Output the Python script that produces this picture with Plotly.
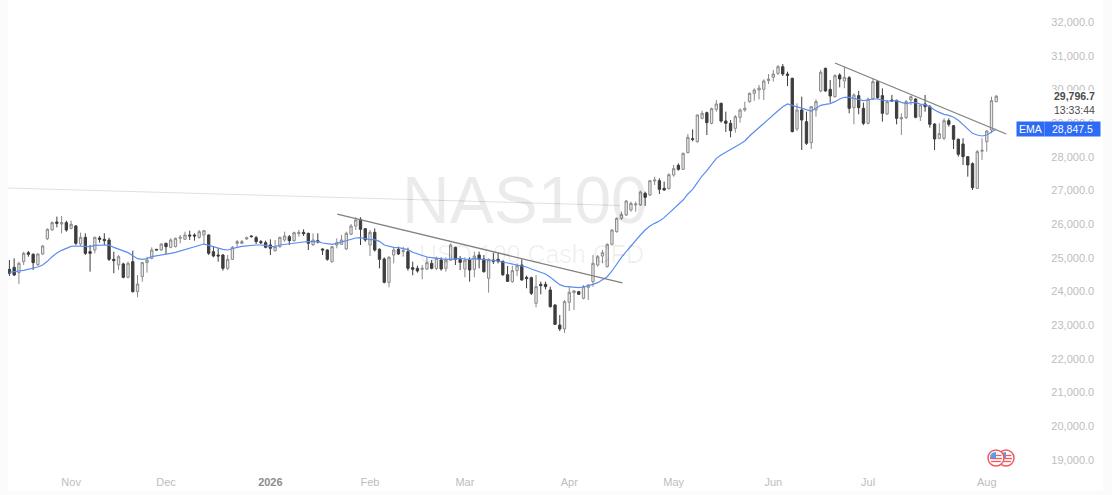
import math
import plotly.graph_objects as go

# daily bars, oldest first
opens = [
    24660, 24719, 24561, 24887, 25154, 25105, 24798, 25115, 25570, 25827,
    26064, 26005, 26045, 25876, 25946, 25411, 25609, 25184, 25233, 25590,
    25550, 25530, 24956, 24788, 24818, 24422, 24887, 23997, 24442, 24857,
    24986, 25253, 25233, 25431, 25312, 25332, 25580, 25550, 25678, 25678,
    25609, 25678, 25678, 25184, 25085, 25085, 24689, 24956, 25431, 25431,
    25560, 25649, 25599, 25481, 25451, 25382, 25213, 25332, 25530, 25629,
    25510, 25718, 25757, 25728, 25391, 25510, 25263, 25233, 24887, 25381,
    25401, 25263, 25698, 25945, 26143, 25866, 25381, 25757, 25253, 24966,
    24273, 25085, 25253, 25184, 25184, 24709, 24689, 24659, 24669, 24837,
    24689, 24936, 24689, 24936, 25312, 24956, 24669, 24936, 24659, 25085,
    24966, 24392, 24936, 24956, 24897, 24501, 24293, 24620, 24788, 24422,
    24412, 23651, 24214, 24214, 24046, 23601, 23007, 22889, 23680, 23967,
    23997, 23799, 24125, 24293, 24788, 25055, 24738, 25401, 25777, 26173,
    26272, 26420, 26569, 26569, 26915, 26865, 27281, 27291, 27063, 27053,
    27459, 27746, 27627, 28122, 28537, 28448, 29141, 29309, 28992, 29408,
    29586, 29062, 28992, 28844, 29170, 29388, 29635, 29883, 29982, 30001,
    30259, 30358, 30476, 30674, 30456, 30328, 28825, 29389, 29042, 28419,
    29389, 29953, 30625, 30002, 29784, 30427, 30249, 30348, 29458, 29814,
    29438, 28993, 29715, 30230, 29814, 29270, 29685, 29676, 29122, 29161,
    29685, 29715, 29191, 29567, 29488, 28973, 28548, 28548, 29072, 28924,
    28518, 28380, 28004, 27796, 27064, 28162, 28449, 28795, 29636,
]
highs = [
    24936, 24986, 24887, 25184, 25204, 25134, 25134, 25382, 25876, 26084,
    26223, 26242, 26104, 26104, 25975, 25748, 25728, 25382, 25629, 25649,
    25728, 25599, 25184, 25085, 24857, 24887, 25213, 24491, 24887, 25035,
    25312, 25253, 25431, 25451, 25580, 25599, 25678, 25777, 25807, 25728,
    25827, 25827, 25698, 25352, 25283, 25115, 25085, 25352, 25530, 25530,
    25629, 25668, 25649, 25530, 25510, 25550, 25530, 25625, 25777, 25678,
    25777, 25827, 25846, 25747, 25728, 25728, 25283, 25253, 25352, 25579,
    25678, 25777, 26005, 26203, 26203, 25886, 25827, 25876, 25283, 25015,
    25055, 25302, 25332, 25332, 25302, 24887, 24768, 24788, 25035, 24936,
    25035, 25015, 25015, 25431, 25332, 25055, 25015, 25015, 25184, 25184,
    25085, 24986, 25154, 25154, 24916, 24758, 24768, 24837, 24956, 24472,
    24442, 24491, 24294, 24294, 24145, 23621, 23304, 23749, 24145, 24046,
    24017, 24195, 24214, 25085, 25085, 25233, 25431, 25846, 26203, 26371,
    26717, 26668, 26668, 26994, 26964, 27311, 27409, 27360, 27261, 27508,
    27756, 27805, 28122, 28676, 28814, 29259, 29368, 29339, 29457, 29685,
    29606, 29339, 29091, 29240, 29438, 29635, 29903, 30031, 30130, 30298,
    30456, 30575, 30724, 30753, 30526, 30348, 29586, 29784, 29339, 29488,
    29705, 30576, 30645, 30279, 30447, 30477, 30675, 30398, 29883, 29953,
    29606, 29755, 30309, 30269, 30032, 29685, 29834, 29695, 29290, 29685,
    29814, 29735, 29557, 29834, 29537, 28993, 28993, 29141, 29141, 28943,
    28548, 28548, 28023, 27835, 28201, 28548, 28795, 29784, 29834,
]
lows = [
    24462, 24462, 24224, 24788, 25035, 24640, 24758, 25085, 25530, 25807,
    25906, 25728, 25777, 25847, 25382, 25352, 25085, 24590, 25134, 25451,
    25382, 24907, 24541, 24640, 24392, 24392, 23967, 23828, 24293, 24561,
    24956, 25233, 25213, 25115, 25283, 25312, 25431, 25530, 25530, 25510,
    25570, 25382, 25085, 25016, 24887, 24620, 24640, 24936, 25332, 25411,
    25530, 25609, 25411, 25411, 25283, 25085, 25184, 25300, 25480, 25381,
    25480, 25629, 25649, 25233, 25352, 25431, 25085, 24916, 24857, 25283,
    25381, 25233, 25678, 25827, 25381, 25480, 25055, 25184, 24689, 24244,
    24125, 24837, 25085, 25035, 24620, 24481, 24560, 24362, 24639, 24659,
    24639, 24620, 24590, 24916, 24788, 24639, 24422, 24293, 24422, 24689,
    24560, 23967, 24818, 24837, 24461, 24283, 24263, 24461, 24323, 24096,
    23898, 23532, 23918, 24066, 23522, 23007, 22829, 22770, 23423, 23453,
    23898, 23769, 23749, 24145, 24738, 24837, 24718, 25371, 25747, 26123,
    26242, 26371, 26371, 26539, 26539, 26836, 27162, 26895, 26994, 27033,
    27409, 27587, 27607, 28102, 28458, 28419, 29111, 28646, 28963, 29339,
    29012, 28735, 28577, 28715, 29012, 29339, 29606, 29665, 29705, 29685,
    30160, 30229, 30427, 30397, 30100, 28726, 28765, 28201, 28350, 28231,
    29191, 29913, 29933, 29606, 29755, 30061, 30032, 29290, 28963, 29260,
    28943, 28963, 29685, 29715, 29042, 29240, 29636, 28963, 28647, 29122,
    29537, 29141, 29062, 29339, 28864, 28201, 28518, 28498, 28894, 28231,
    28004, 27756, 27410, 27014, 27044, 27905, 28152, 28696, 29616,
]
closes = [
    24541, 24491, 24838, 25134, 25105, 24857, 25115, 25352, 25847, 26045,
    26025, 26045, 25827, 25995, 25431, 25609, 25134, 25134, 25609, 25550,
    25510, 24956, 24917, 25035, 24422, 24838, 23997, 24224, 24857, 24936,
    25233, 25233, 25411, 25332, 25530, 25580, 25609, 25678, 25649, 25649,
    25777, 25807, 25134, 25055, 25055, 24689, 24956, 25312, 25481, 25481,
    25599, 25629, 25481, 25451, 25312, 25283, 25332, 25609, 25649, 25510,
    25747, 25757, 25718, 25431, 25530, 25470, 25233, 24956, 25332, 25451,
    25530, 25728, 25945, 26123, 25846, 25530, 25757, 25233, 24956, 24273,
    25015, 25233, 25114, 25213, 24689, 24659, 24610, 24689, 24857, 24689,
    24986, 24669, 24936, 25381, 24956, 24867, 24936, 24639, 25055, 24956,
    24590, 24956, 24897, 24907, 24501, 24303, 24620, 24768, 24343, 24382,
    23947, 24145, 24175, 24145, 23552, 23027, 22889, 23700, 23977, 24017,
    23918, 24145, 24195, 24837, 25035, 25154, 25401, 25827, 26173, 26291,
    26687, 26618, 26598, 26954, 26796, 27291, 27311, 27033, 27014, 27469,
    27647, 27627, 28102, 28577, 28517, 29240, 29289, 29012, 29428, 29566,
    29062, 28992, 28775, 29190, 29388, 29438, 29883, 29982, 30041, 30249,
    30308, 30456, 30674, 30456, 30417, 28746, 29389, 29092, 28399, 29488,
    29636, 30507, 29953, 29804, 30408, 30309, 30358, 29438, 29834, 29458,
    28993, 29715, 30230, 29755, 29290, 29636, 29656, 29141, 29161, 29636,
    29784, 29171, 29537, 29488, 28963, 28528, 28686, 29072, 28963, 28518,
    28073, 28004, 27756, 27084, 28152, 28192, 28765, 29666, 29797,
]
ema = [
    24570, 24580, 24610, 24630, 24660, 24680, 24729, 24788, 24897, 25035,
    25144, 25223, 25283, 25342, 25352, 25352, 25352, 25332, 25372, 25382,
    25392, 25382, 25312, 25263, 25204, 25154, 25065, 24976, 24956, 24976,
    25035, 25055, 25075, 25105, 25134, 25164, 25204, 25243, 25283, 25322,
    25362, 25411, 25372, 25332, 25283, 25253, 25233, 25283, 25312, 25342,
    25362, 25372, 25382, 25382, 25372, 25332, 25332, 25382, 25401, 25431,
    25441, 25461, 25470, 25480, 25480, 25480, 25441, 25411, 25401, 25431,
    25470, 25520, 25560, 25589, 25599, 25560, 25540, 25540, 25490, 25381,
    25342, 25312, 25302, 25283, 25243, 25164, 25114, 25065, 25025, 25006,
    24986, 24976, 24956, 24956, 24976, 24986, 24966, 24956, 24976, 24966,
    24946, 24936, 24936, 24907, 24877, 24847, 24818, 24788, 24768, 24729,
    24670, 24620, 24571, 24521, 24422, 24313, 24205, 24155, 24135, 24125,
    24115, 24135, 24165, 24214, 24263, 24343, 24441, 24610, 24817, 25015,
    25184, 25352, 25530, 25678, 25827, 25945, 26024, 26094, 26193, 26321,
    26450, 26569, 26717, 26895, 27033, 27231, 27429, 27588, 27756, 27954,
    28052, 28142, 28221, 28300, 28379, 28468, 28616, 28745, 28864, 28992,
    29111, 29240, 29368, 29487, 29566, 29527, 29488, 29438, 29389, 29359,
    29438, 29527, 29557, 29577, 29636, 29715, 29765, 29765, 29735, 29705,
    29666, 29685, 29715, 29715, 29685, 29656, 29656, 29666, 29616, 29577,
    29606, 29606, 29567, 29547, 29488, 29389, 29319, 29260, 29230, 29171,
    29082, 28963, 28825, 28696, 28647, 28617, 28647, 28746, 28825,
]
bars = list(range(len(closes)))

month_bars = [13, 33, 55, 76, 96, 118, 140, 161, 181, 206]
month_labels = ["Nov", "Dec", "<b style='color:#8c8c8c'>2026</b>", "Feb", "Mar", "Apr", "May", "Jun", "Jul", "Aug"]
price_ticks = list(range(19000, 33000, 1000))

# hand drawn lines: [start, end] as bar number and price
trend1_bars, trend1_prices = [69.1, 129.2], [26301, 24254]
trend2_bars, trend2_prices = [174.0, 210.1], [30783, 28676]
old_line_bars, old_line_prices = [-0.3, 128.7], [27073, 26554]

W, H = 1112, 495
LEFT, RIGHT, BOTTOM = 8, 1103, 491
TICK_FONT = dict(family="Liberation Sans", size=11, color="#bdbdbd")

def fx(px):
    return (px - LEFT) / (RIGHT - LEFT)

def fy(py):
    return 1 - py / BOTTOM

fig = go.Figure()

fig.add_trace(go.Candlestick(
    x=bars, open=opens, high=highs, low=lows, close=closes,
    increasing=dict(line=dict(color="#8a8a8a", width=1), fillcolor="#e8e8e8"),
    decreasing=dict(line=dict(color="#3d3d3d", width=1), fillcolor="#3d3d3d"),
    whiskerwidth=0, hoverinfo="skip",
))
fig.add_trace(go.Scatter(x=bars, y=ema, mode="lines", line=dict(color="#5b8def", width=1.2), hoverinfo="skip"))
fig.add_trace(go.Scatter(x=old_line_bars, y=old_line_prices, mode="lines", line=dict(color="#e0e0e0", width=1), hoverinfo="skip"))
fig.add_trace(go.Scatter(x=trend1_bars, y=trend1_prices, mode="lines", line=dict(color="#808080", width=1.3), hoverinfo="skip"))
fig.add_trace(go.Scatter(x=trend2_bars, y=trend2_prices, mode="lines", line=dict(color="#808080", width=1.3), hoverinfo="skip"))

# watermark
fig.add_annotation(text="NAS100", x=fx(525), y=fy(200), xref="paper", yref="paper", showarrow=False,
                   font=dict(family="Liberation Sans", size=66, color="rgba(0,0,0,0.08)"))
fig.add_annotation(text="USD 100 Cash CFD", x=fx(531), y=fy(254), xref="paper", yref="paper", showarrow=False,
                   font=dict(family="Liberation Sans", size=25, color="rgba(0,0,0,0.06)"))

# last price block sits over the axis labels
fig.add_annotation(text="<b>29,796.7</b><br>13:33:44", x=fx(1096), y=fy(103), xref="paper", yref="paper",
                   xanchor="right", yanchor="middle", align="right", showarrow=False, bgcolor="white",
                   width=50, height=24, borderpad=0,
                   font=dict(family="Liberation Sans", size=10.5, color="#4a4a4a"))
fig.add_annotation(text="EMA", x=fx(1016), y=fy(129), xref="paper", yref="paper", xanchor="left", yanchor="middle",
                   showarrow=False, bgcolor="#2d6bf5", width=27, height=14, borderpad=0,
                   font=dict(family="Liberation Sans", size=10.5, color="white"))
fig.add_annotation(text="28,847.5", x=fx(1044), y=fy(129), xref="paper", yref="paper", xanchor="left", yanchor="middle",
                   showarrow=False, bgcolor="#2d6bf5", width=55, height=14, borderpad=0,
                   font=dict(family="Liberation Sans", size=10.5, color="white"))

# event flags at the bottom, right one goes behind the left one
def flag(cx, cy, r=8.0):
    out = [dict(type="circle", xref="paper", yref="paper", x0=fx(cx - r), x1=fx(cx + r), y0=fy(cy + r), y1=fy(cy - r),
                fillcolor="white", line=dict(color="#ef5a60", width=1.5))]
    inner = r - 2
    for dy in (-2.5, 0.5, 3.5):
        half = math.sqrt(inner ** 2 - dy ** 2)
        out.append(dict(type="line", xref="paper", yref="paper", x0=fx(cx - half), x1=fx(cx + half),
                        y0=fy(cy + dy), y1=fy(cy + dy), line=dict(color="#ef5a60", width=1.3)))
    out.append(dict(type="path", xref="paper", yref="paper",
                    path=f"M {fx(cx)} {fy(cy)} L {fx(cx - inner)} {fy(cy)} "
                         f"Q {fx(cx - inner)} {fy(cy - inner)} {fx(cx)} {fy(cy - inner)} Z",
                    fillcolor="#5f9bea", line=dict(width=0)))
    return out

shapes = flag(1006, 458) + flag(996, 458)
fig.update_layout(shapes=shapes)

fig.update_layout(
    width=W, height=H,
    margin=dict(l=LEFT, r=W - RIGHT, t=0, b=H - BOTTOM),
    paper_bgcolor="#fbfbfb", plot_bgcolor="white",
    showlegend=False,
    xaxis=dict(range=[-0.3, 230.5], rangeslider=dict(visible=False), showgrid=False, zeroline=False,
               tickmode="array", tickvals=month_bars, ticktext=month_labels, tickfont=TICK_FONT,
               ticks="", ticklabelposition="inside", showline=False),
    yaxis=dict(range=[18080, 32653], side="right", showgrid=False, zeroline=False,
               tickmode="array", tickvals=price_ticks, tickformat=",.1f", tickfont=TICK_FONT,
               ticks="inside", ticklen=8, tickcolor="rgba(0,0,0,0)", ticklabelposition="inside", showline=False),
)

fig.write_html("out.html", post_script="document.body.style.margin='0';", config={"displayModeBar": False})
